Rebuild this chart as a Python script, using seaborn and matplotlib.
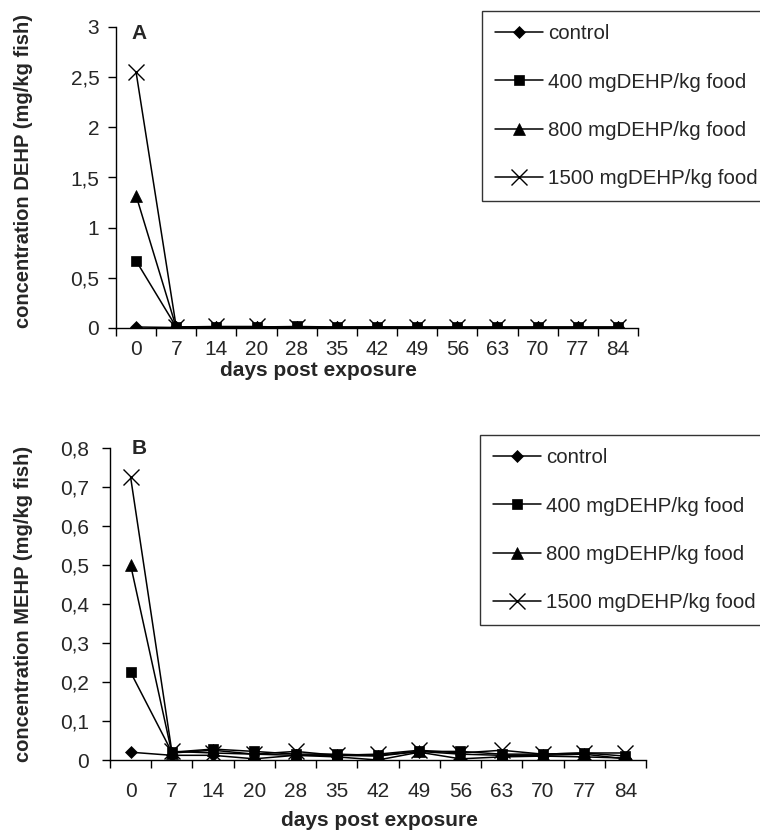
import matplotlib
matplotlib.use("Agg")
import matplotlib.pyplot as plt
from matplotlib.lines import Line2D
from matplotlib.ticker import FixedLocator, FuncFormatter, NullFormatter
import pandas as pd
import seaborn as sns

# ---------- data ----------
days = ["0", "7", "14", "20", "28", "35", "42", "49", "56", "63", "70", "77", "84"]
groups = ["control", "400 mgDEHP/kg food", "800 mgDEHP/kg food", "1500 mgDEHP/kg food"]

dehp_control = [0.01, 0.005, 0.005, 0.005, 0.005, 0.005, 0.005, 0.005, 0.005, 0.005, 0.005, 0.005, 0.005]
dehp_400 = [0.67, 0.01, 0.01, 0.01, 0.015, 0.01, 0.01, 0.01, 0.01, 0.01, 0.01, 0.01, 0.01]
dehp_800 = [1.32, 0.005, 0.005, 0.005, 0.005, 0.005, 0.005, 0.005, 0.005, 0.005, 0.005, 0.005, 0.005]
dehp_1500 = [2.55, 0.01, 0.015, 0.015, 0.005, 0.005, 0.01, 0.005, 0.005, 0.005, 0.005, 0.005, 0.005]

mehp_control = [0.02, 0.012, 0.012, 0.003, 0.012, 0.008, 0.0, 0.02, 0.003, 0.008, 0.01, 0.008, 0.005]
mehp_400 = [0.225, 0.02, 0.028, 0.022, 0.015, 0.015, 0.012, 0.022, 0.022, 0.015, 0.015, 0.018, 0.01]
mehp_800 = [0.50, 0.018, 0.025, 0.015, 0.012, 0.012, 0.01, 0.022, 0.015, 0.012, 0.012, 0.015, 0.003]
mehp_1500 = [0.725, 0.022, 0.018, 0.015, 0.022, 0.012, 0.015, 0.025, 0.018, 0.025, 0.015, 0.018, 0.018]

markers = {"control": ("D", 6), "400 mgDEHP/kg food": ("s", 7),
           "800 mgDEHP/kg food": ("^", 8), "1500 mgDEHP/kg food": ("x", 11)}


def _long(series):
    rows = []
    for g, vals in zip(groups, series):
        for i, v in enumerate(vals):
            rows.append({"pos": i, "day": days[i], "group": g, "value": v})
    return pd.DataFrame(rows)


def _comma(v, _pos):
    return f"{v:g}".replace(".", ",")


def _panel(ax, df, ymax, ystep, ylabel, letter, fig, legend_anchor, xpad, ypad):
    for g in groups:
        m, ms = markers[g]
        sns.lineplot(data=df[df["group"] == g], x="pos", y="value", ax=ax,
                     color="black", lw=1.1, marker=m, markersize=ms,
                     markeredgewidth=1.0 if m == "x" else 0.5,
                     markeredgecolor="black", legend=False)
    ax.set_xlim(-0.5, len(days) - 0.5)
    ax.set_ylim(0, ymax)
    # Excel-like category axis: ticks between categories, labels at centres
    ax.xaxis.set_major_locator(FixedLocator([i - 0.5 for i in range(len(days) + 1)]))
    ax.xaxis.set_major_formatter(NullFormatter())
    ax.xaxis.set_minor_locator(FixedLocator(list(range(len(days)))))
    ax.xaxis.set_minor_formatter(FuncFormatter(lambda v, p: days[int(round(v))]))
    ax.tick_params(axis="x", which="major", direction="out", length=6, width=1, color="black")
    ax.tick_params(axis="x", which="minor", length=0, pad=xpad, labelsize=15)
    yt = [round(i * ystep, 3) for i in range(int(round(ymax / ystep)) + 1)]
    ax.set_yticks(yt)
    ax.yaxis.set_major_formatter(FuncFormatter(_comma))
    ax.tick_params(axis="y", direction="out", length=6, width=1, color="black",
                   pad=ypad, labelsize=15)
    for s in ["top", "right"]:
        ax.spines[s].set_visible(False)
    for s in ["left", "bottom"]:
        ax.spines[s].set_color("black")
        ax.spines[s].set_linewidth(1.0)
    ax.set_ylabel(ylabel, fontsize=14.5, fontweight="bold")
    ax.set_xlabel("days post exposure", fontsize=15, fontweight="bold")
    ax.text(letter[1], letter[2], letter[0], transform=ax.transAxes,
            fontsize=15, fontweight="bold", ha="left", va="center")

    handles = []
    for g in groups:
        m, ms = markers[g]
        handles.append(Line2D([], [], color="black", lw=1.1, marker=m, markersize=ms,
                              markeredgewidth=1.0 if m == "x" else 0.5,
                              markeredgecolor="black", markerfacecolor="black"))
    leg = ax.legend(handles, groups, loc="upper left", bbox_to_anchor=legend_anchor,
                    bbox_transform=fig.transFigure, frameon=True, fancybox=False,
                    fontsize=14.8, handlelength=2.3, handletextpad=0.25,
                    labelspacing=1.42, borderpad=0.65, borderaxespad=0)
    leg.get_frame().set_edgecolor("black")
    leg.get_frame().set_linewidth(1.0)


sns.set_theme(style="ticks")
plt.rcParams["font.family"] = ["Liberation Sans", "DejaVu Sans"]

W, H = 760, 835
fig = plt.figure(figsize=(W / 100, H / 100), dpi=100)
fig.patch.set_facecolor("white")

axA = fig.add_axes([116 / W, 1 - 328 / H, (638 - 116) / W, (328 - 27) / H])
axB = fig.add_axes([110 / W, 1 - 760 / H, (646 - 110) / W, (760 - 448) / H])

dfA = _long([dehp_control, dehp_400, dehp_800, dehp_1500])
dfB = _long([mehp_control, mehp_400, mehp_800, mehp_1500])

_panel(axA, dfA, 3.0, 0.5, "concentration DEHP (mg/kg fish)", ("A", 0.03, 0.98),
       fig, (482 / W, 1 - 11 / H), xpad=9, ypad=6)
_panel(axB, dfB, 0.8, 0.1, "concentration MEHP (mg/kg fish)", ("B", 0.041, 1.0),
       fig, (480 / W, 1 - 435 / H), xpad=16, ypad=9)

axA.yaxis.set_label_coords(-0.159, 0.52)
axA.xaxis.set_label_coords(0.387, -0.11)
axB.yaxis.set_label_coords(-0.144, 0.5)
axB.xaxis.set_label_coords(0.502, -0.165)

fig.savefig("out.png", dpi=100, facecolor="white")
